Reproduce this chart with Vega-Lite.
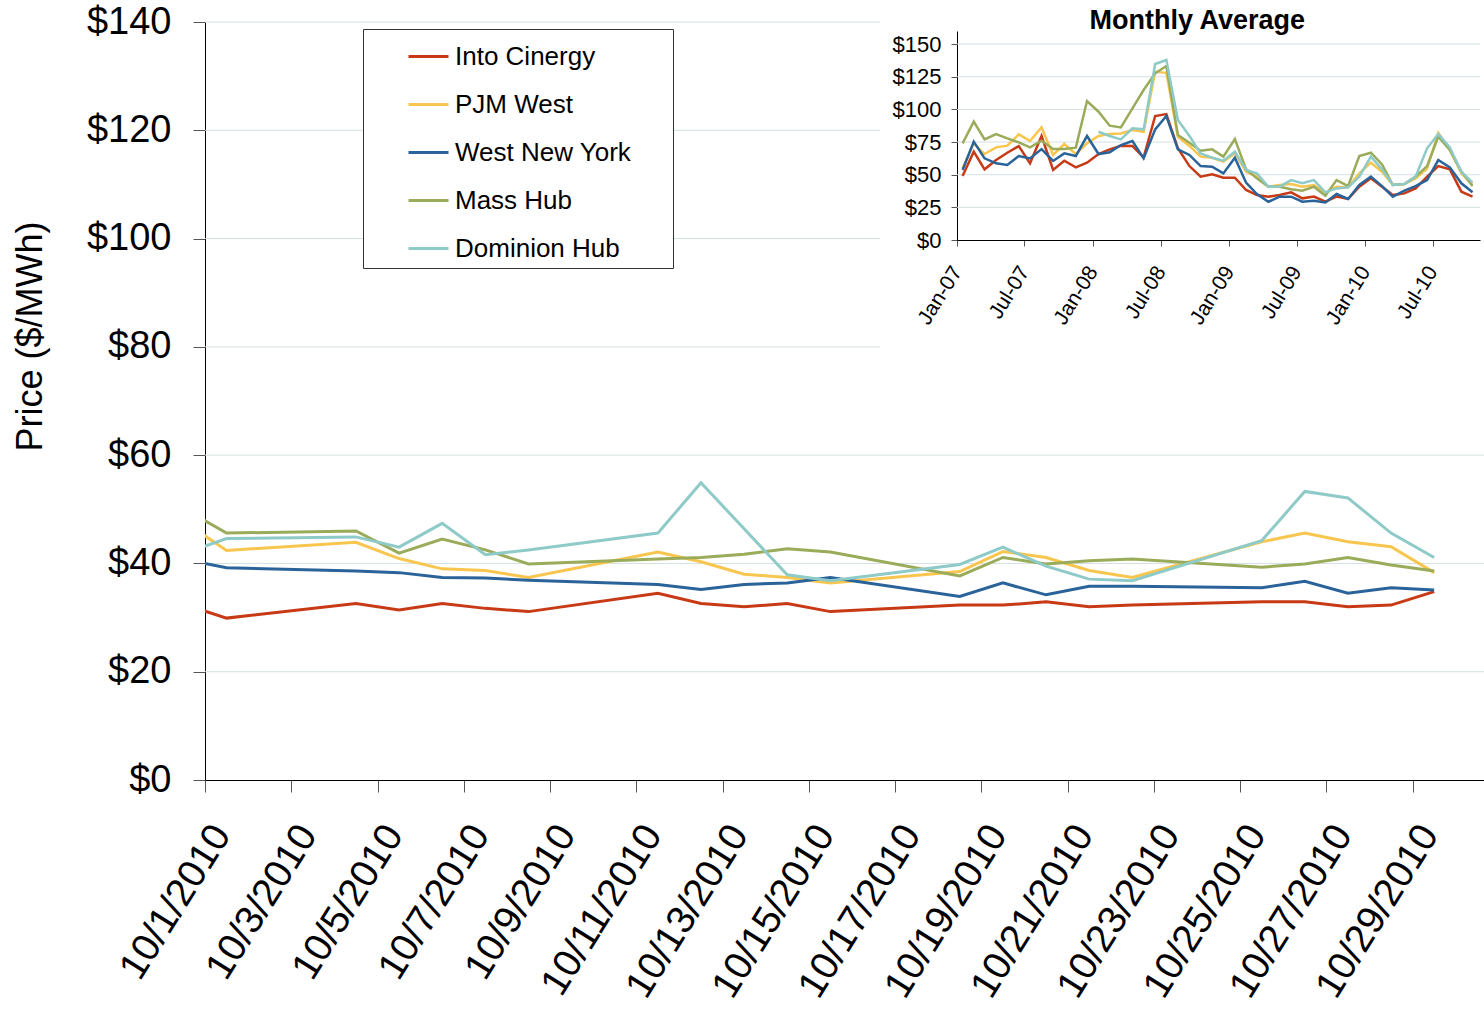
{
  "$schema": "https://vega.github.io/schema/vega-lite/v6.json",
  "width": 1279,
  "height": 758,
  "autosize": {"type": "none"},
  "padding": {"left": 205, "top": 22, "right": 0, "bottom": 231},
  "background": "white",
  "config": {
    "view": {"stroke": null},
    "font": "Liberation Sans",
    "axis": {"labelFont": "Liberation Sans", "titleFont": "Liberation Sans", "labelColor": "#000", "titleColor": "#000"},
    "legend": {"labelFont": "Liberation Sans", "titleFont": "Liberation Sans"}
  },
  "datasets": {
    "daily": [
      {"date": "2010-09-30T12:00:00", "Into Cinergy": 32.5, "PJM West": 47.8, "West New York": 40.8, "Mass Hub": 50.2, "Dominion Hub": 41.8},
      {"date": "2010-10-01T12:00:00", "Into Cinergy": 29.9, "PJM West": 42.4, "West New York": 39.2, "Mass Hub": 45.6, "Dominion Hub": 44.6},
      {"date": "2010-10-04T12:00:00", "Into Cinergy": 32.6, "PJM West": 43.9, "West New York": 38.6, "Mass Hub": 46.0, "Dominion Hub": 44.9},
      {"date": "2010-10-05T12:00:00", "Into Cinergy": 31.4, "PJM West": 40.9, "West New York": 38.3, "Mass Hub": 41.9, "Dominion Hub": 43.0},
      {"date": "2010-10-06T12:00:00", "Into Cinergy": 32.6, "PJM West": 39.0, "West New York": 37.4, "Mass Hub": 44.5, "Dominion Hub": 47.4},
      {"date": "2010-10-07T12:00:00", "Into Cinergy": 31.7, "PJM West": 38.7, "West New York": 37.3, "Mass Hub": 42.5, "Dominion Hub": 41.6},
      {"date": "2010-10-08T12:00:00", "Into Cinergy": 31.1, "PJM West": 37.4, "West New York": 36.9, "Mass Hub": 39.9, "Dominion Hub": 42.5},
      {"date": "2010-10-11T12:00:00", "Into Cinergy": 34.5, "PJM West": 42.1, "West New York": 36.1, "Mass Hub": 40.8, "Dominion Hub": 45.6},
      {"date": "2010-10-12T12:00:00", "Into Cinergy": 32.6, "PJM West": 40.3, "West New York": 35.2, "Mass Hub": 41.1, "Dominion Hub": 54.9},
      {"date": "2010-10-13T12:00:00", "Into Cinergy": 32.0, "PJM West": 38.0, "West New York": 36.1, "Mass Hub": 41.7, "Dominion Hub": 46.4},
      {"date": "2010-10-14T12:00:00", "Into Cinergy": 32.6, "PJM West": 37.4, "West New York": 36.4, "Mass Hub": 42.7, "Dominion Hub": 37.9},
      {"date": "2010-10-15T12:00:00", "Into Cinergy": 31.1, "PJM West": 36.4, "West New York": 37.4, "Mass Hub": 42.1, "Dominion Hub": 36.8},
      {"date": "2010-10-18T12:00:00", "Into Cinergy": 32.3, "PJM West": 38.5, "West New York": 33.9, "Mass Hub": 37.7, "Dominion Hub": 39.8},
      {"date": "2010-10-19T12:00:00", "Into Cinergy": 32.3, "PJM West": 42.2, "West New York": 36.4, "Mass Hub": 41.1, "Dominion Hub": 43.0},
      {"date": "2010-10-20T12:00:00", "Into Cinergy": 32.9, "PJM West": 41.1, "West New York": 34.2, "Mass Hub": 39.9, "Dominion Hub": 39.5},
      {"date": "2010-10-21T12:00:00", "Into Cinergy": 32.0, "PJM West": 38.7, "West New York": 35.8, "Mass Hub": 40.5, "Dominion Hub": 37.1},
      {"date": "2010-10-22T12:00:00", "Into Cinergy": 32.3, "PJM West": 37.4, "West New York": 35.8, "Mass Hub": 40.8, "Dominion Hub": 36.8},
      {"date": "2010-10-25T12:00:00", "Into Cinergy": 32.9, "PJM West": 44.0, "West New York": 35.5, "Mass Hub": 39.3, "Dominion Hub": 44.2},
      {"date": "2010-10-26T12:00:00", "Into Cinergy": 32.9, "PJM West": 45.6, "West New York": 36.7, "Mass Hub": 39.9, "Dominion Hub": 53.3},
      {"date": "2010-10-27T12:00:00", "Into Cinergy": 32.0, "PJM West": 44.0, "West New York": 34.5, "Mass Hub": 41.1, "Dominion Hub": 52.1},
      {"date": "2010-10-28T12:00:00", "Into Cinergy": 32.3, "PJM West": 43.1, "West New York": 35.5, "Mass Hub": 39.7, "Dominion Hub": 45.6},
      {"date": "2010-10-29T12:00:00", "Into Cinergy": 34.8, "PJM West": 38.3, "West New York": 35.1, "Mass Hub": 38.6, "Dominion Hub": 41.1}
    ],
    "monthly": [
      {"date": "2007-01-16T00:00:00", "Into Cinergy": 49.0, "PJM West": 55.0, "West New York": 53.6, "Mass Hub": 74.0, "Dominion Hub": null},
      {"date": "2007-02-15T00:00:00", "Into Cinergy": 67.6, "PJM West": 74.0, "West New York": 75.3, "Mass Hub": 90.6, "Dominion Hub": null},
      {"date": "2007-03-16T00:00:00", "Into Cinergy": 54.1, "PJM West": 65.8, "West New York": 62.5, "Mass Hub": 77.0, "Dominion Hub": null},
      {"date": "2007-04-16T00:00:00", "Into Cinergy": 61.2, "PJM West": 70.9, "West New York": 58.7, "Mass Hub": 81.1, "Dominion Hub": null},
      {"date": "2007-05-16T00:00:00", "Into Cinergy": 66.8, "PJM West": 72.2, "West New York": 57.4, "Mass Hub": 77.8, "Dominion Hub": null},
      {"date": "2007-06-16T00:00:00", "Into Cinergy": 71.9, "PJM West": 80.9, "West New York": 64.3, "Mass Hub": 74.7, "Dominion Hub": null},
      {"date": "2007-07-16T00:00:00", "Into Cinergy": 58.7, "PJM West": 75.8, "West New York": 62.5, "Mass Hub": 70.9, "Dominion Hub": null},
      {"date": "2007-08-16T00:00:00", "Into Cinergy": 79.6, "PJM West": 86.2, "West New York": 69.6, "Mass Hub": 76.0, "Dominion Hub": null},
      {"date": "2007-09-16T00:00:00", "Into Cinergy": 53.6, "PJM West": 65.1, "West New York": 60.5, "Mass Hub": 69.6, "Dominion Hub": null},
      {"date": "2007-10-16T00:00:00", "Into Cinergy": 60.7, "PJM West": 73.5, "West New York": 66.3, "Mass Hub": 69.6, "Dominion Hub": null},
      {"date": "2007-11-16T00:00:00", "Into Cinergy": 55.6, "PJM West": 65.8, "West New York": 64.3, "Mass Hub": 70.7, "Dominion Hub": null},
      {"date": "2007-12-16T00:00:00", "Into Cinergy": 59.2, "PJM West": 74.0, "West New York": 79.6, "Mass Hub": 106.4, "Dominion Hub": null},
      {"date": "2008-01-16T00:00:00", "Into Cinergy": 65.8, "PJM West": 79.6, "West New York": 65.8, "Mass Hub": 98.2, "Dominion Hub": 82.9},
      {"date": "2008-02-15T00:00:00", "Into Cinergy": 69.4, "PJM West": 81.1, "West New York": 67.1, "Mass Hub": 87.5, "Dominion Hub": 79.6},
      {"date": "2008-03-16T00:00:00", "Into Cinergy": 72.2, "PJM West": 81.6, "West New York": 72.7, "Mass Hub": 86.2, "Dominion Hub": 77.0},
      {"date": "2008-04-16T00:00:00", "Into Cinergy": 71.9, "PJM West": 84.2, "West New York": 75.8, "Mass Hub": 100.8, "Dominion Hub": 85.5},
      {"date": "2008-05-16T00:00:00", "Into Cinergy": 63.3, "PJM West": 82.9, "West New York": 62.5, "Mass Hub": 114.8, "Dominion Hub": 84.7},
      {"date": "2008-06-16T00:00:00", "Into Cinergy": 94.9, "PJM West": 128.8, "West New York": 84.7, "Mass Hub": 127.6, "Dominion Hub": 134.7},
      {"date": "2008-07-16T00:00:00", "Into Cinergy": 96.4, "PJM West": 128.0, "West New York": 94.9, "Mass Hub": 133.2, "Dominion Hub": 137.8},
      {"date": "2008-08-16T00:00:00", "Into Cinergy": 70.2, "PJM West": 79.0, "West New York": 69.4, "Mass Hub": 80.4, "Dominion Hub": 91.8},
      {"date": "2008-09-16T00:00:00", "Into Cinergy": 56.6, "PJM West": 72.0, "West New York": 65.1, "Mass Hub": 74.5, "Dominion Hub": 79.6},
      {"date": "2008-10-16T00:00:00", "Into Cinergy": 48.5, "PJM West": 63.8, "West New York": 56.6, "Mass Hub": 68.4, "Dominion Hub": 66.3},
      {"date": "2008-11-16T00:00:00", "Into Cinergy": 50.3, "PJM West": 63.0, "West New York": 56.1, "Mass Hub": 69.4, "Dominion Hub": 63.0},
      {"date": "2008-12-16T00:00:00", "Into Cinergy": 47.7, "PJM West": 60.0, "West New York": 51.0, "Mass Hub": 63.8, "Dominion Hub": 60.7},
      {"date": "2009-01-16T00:00:00", "Into Cinergy": 47.7, "PJM West": 66.3, "West New York": 63.0, "Mass Hub": 77.3, "Dominion Hub": 67.6},
      {"date": "2009-02-15T00:00:00", "Into Cinergy": 38.3, "PJM West": 52.3, "West New York": 43.9, "Mass Hub": 54.1, "Dominion Hub": 53.6},
      {"date": "2009-03-16T00:00:00", "Into Cinergy": 34.4, "PJM West": 48.5, "West New York": 35.2, "Mass Hub": 47.2, "Dominion Hub": 51.0},
      {"date": "2009-04-16T00:00:00", "Into Cinergy": 33.2, "PJM West": 40.8, "West New York": 29.3, "Mass Hub": 40.8, "Dominion Hub": 40.8},
      {"date": "2009-05-16T00:00:00", "Into Cinergy": 34.4, "PJM West": 42.1, "West New York": 33.2, "Mass Hub": 40.8, "Dominion Hub": 40.8},
      {"date": "2009-06-16T00:00:00", "Into Cinergy": 36.5, "PJM West": 42.9, "West New York": 33.2, "Mass Hub": 38.8, "Dominion Hub": 45.9},
      {"date": "2009-07-16T00:00:00", "Into Cinergy": 31.9, "PJM West": 40.8, "West New York": 29.3, "Mass Hub": 37.8, "Dominion Hub": 43.4},
      {"date": "2009-08-16T00:00:00", "Into Cinergy": 33.2, "PJM West": 42.1, "West New York": 30.1, "Mass Hub": 40.8, "Dominion Hub": 45.9},
      {"date": "2009-09-16T00:00:00", "Into Cinergy": 29.3, "PJM West": 36.2, "West New York": 28.8, "Mass Hub": 33.9, "Dominion Hub": 36.5},
      {"date": "2009-10-16T00:00:00", "Into Cinergy": 33.2, "PJM West": 40.8, "West New York": 35.2, "Mass Hub": 45.9, "Dominion Hub": 39.5},
      {"date": "2009-11-16T00:00:00", "Into Cinergy": 31.4, "PJM West": 40.3, "West New York": 31.4, "Mass Hub": 41.3, "Dominion Hub": 40.3},
      {"date": "2009-12-16T00:00:00", "Into Cinergy": 40.8, "PJM West": 51.0, "West New York": 42.1, "Mass Hub": 64.3, "Dominion Hub": 48.5},
      {"date": "2010-01-16T00:00:00", "Into Cinergy": 47.2, "PJM West": 59.2, "West New York": 48.5, "Mass Hub": 66.8, "Dominion Hub": 63.8},
      {"date": "2010-02-15T00:00:00", "Into Cinergy": 40.8, "PJM West": 52.3, "West New York": 41.3, "Mass Hub": 57.9, "Dominion Hub": 54.1},
      {"date": "2010-03-16T00:00:00", "Into Cinergy": 34.4, "PJM West": 42.1, "West New York": 33.2, "Mass Hub": 42.1, "Dominion Hub": 42.1},
      {"date": "2010-04-16T00:00:00", "Into Cinergy": 35.7, "PJM West": 42.9, "West New York": 37.8, "Mass Hub": 42.9, "Dominion Hub": 42.9},
      {"date": "2010-05-16T00:00:00", "Into Cinergy": 39.5, "PJM West": 47.2, "West New York": 41.3, "Mass Hub": 48.5, "Dominion Hub": 48.5},
      {"date": "2010-06-16T00:00:00", "Into Cinergy": 48.5, "PJM West": 54.8, "West New York": 45.9, "Mass Hub": 56.6, "Dominion Hub": 70.2},
      {"date": "2010-07-16T00:00:00", "Into Cinergy": 56.6, "PJM West": 82.1, "West New York": 61.2, "Mass Hub": 79.1, "Dominion Hub": 81.1},
      {"date": "2010-08-16T00:00:00", "Into Cinergy": 54.1, "PJM West": 68.9, "West New York": 55.6, "Mass Hub": 68.9, "Dominion Hub": 70.9},
      {"date": "2010-09-16T00:00:00", "Into Cinergy": 37.0, "PJM West": 51.0, "West New York": 43.4, "Mass Hub": 52.3, "Dominion Hub": 52.3},
      {"date": "2010-10-16T00:00:00", "Into Cinergy": 33.2, "PJM West": 42.1, "West New York": 36.5, "Mass Hub": 41.3, "Dominion Hub": 43.9}
    ]
  },
  "layer": [
    {
      "data": {"values": [{"g": 20}, {"g": 40}, {"g": 60}]},
      "mark": {"type": "rule", "color": "#d4e0e3", "strokeWidth": 1},
      "encoding": {
        "y": {"field": "g", "type": "quantitative", "scale": {"domain": [0, 140], "nice": false}, "axis": null},
        "x": {"datum": {"year": 2010, "month": 10, "date": 1}, "type": "temporal", "scale": {"domain": [{"year": 2010, "month": 10, "date": 1}, {"year": 2010, "month": 10, "date": 30, "hours": 15, "minutes": 43}], "nice": false}, "axis": null},
        "x2": {"datum": {"year": 2010, "month": 10, "date": 30, "hours": 15, "minutes": 43}}
      }
    },
    {
      "data": {"values": [{"g": 80}, {"g": 100}, {"g": 120}, {"g": 140}]},
      "mark": {"type": "rule", "color": "#d4e0e3", "strokeWidth": 1},
      "encoding": {
        "y": {"field": "g", "type": "quantitative", "scale": {"domain": [0, 140], "nice": false}, "axis": null},
        "x": {"datum": {"year": 2010, "month": 10, "date": 1}, "type": "temporal", "scale": {"domain": [{"year": 2010, "month": 10, "date": 1}, {"year": 2010, "month": 10, "date": 30, "hours": 15, "minutes": 43}], "nice": false}, "axis": null},
        "x2": {"datum": {"year": 2010, "month": 10, "date": 16, "hours": 15, "minutes": 36}}
      }
    },
    {
      "data": {"name": "daily"},
      "transform": [{"fold": ["Into Cinergy", "PJM West", "West New York", "Mass Hub", "Dominion Hub"], "as": ["hub", "price"]}],
      "mark": {"type": "line", "clip": true, "strokeWidth": 3},
      "encoding": {
        "x": {
          "field": "date", "type": "temporal",
          "scale": {"domain": [{"year": 2010, "month": 10, "date": 1}, {"year": 2010, "month": 10, "date": 30, "hours": 15, "minutes": 43}], "nice": false},
          "axis": {
            "values": [{"year": 2010, "month": 10, "date": 1}, {"year": 2010, "month": 10, "date": 3}, {"year": 2010, "month": 10, "date": 5}, {"year": 2010, "month": 10, "date": 7}, {"year": 2010, "month": 10, "date": 9}, {"year": 2010, "month": 10, "date": 11}, {"year": 2010, "month": 10, "date": 13}, {"year": 2010, "month": 10, "date": 15}, {"year": 2010, "month": 10, "date": 17}, {"year": 2010, "month": 10, "date": 19}, {"year": 2010, "month": 10, "date": 21}, {"year": 2010, "month": 10, "date": 23}, {"year": 2010, "month": 10, "date": 25}, {"year": 2010, "month": 10, "date": 27}, {"year": 2010, "month": 10, "date": 29}],
            "format": "%-m/%-d/%Y",
            "title": null,
            "orient": "bottom",
            "labelAngle": -58,
            "labelAlign": "right",
            "labelBaseline": "top",
            "labelFontSize": 39,
            "labelPadding": 26,
            "labelLimit": 500,
            "labelOverlap": false,
            "labelFlush": false,
            "tickSize": 12,
            "tickColor": "#555555",
            "domainColor": "#000000",
            "grid": false
          }
        },
        "y": {
          "field": "price", "type": "quantitative",
          "scale": {"domain": [0, 140], "nice": false},
          "axis": {
            "values": [0, 20, 40, 60, 80, 100, 120, 140],
            "labelExpr": "'$' + datum.value",
            "labelFontSize": 38,
            "labelPadding": 22,
            "tickSize": 12,
            "tickColor": "#555555",
            "domainColor": "#000000",
            "grid": false,
            "title": "Price ($/MWh)",
            "titleFontSize": 36,
            "titleFontWeight": "normal",
            "titleAngle": -90,
            "titleAlign": "center",
            "titleBaseline": "middle",
            "titleX": -175,
            "titleY": 314,
            "orient": "left"
          }
        },
        "color": {
          "field": "hub", "type": "nominal",
          "scale": {"domain": ["Into Cinergy", "PJM West", "West New York", "Mass Hub", "Dominion Hub"], "range": ["#c73a15", "#f8c64e", "#2a6399", "#9aab5a", "#8ecac7"]},
          "legend": {
            "orient": "none", "legendX": 158, "legendY": 7,
            "title": " ", "titleOrient": "right", "titlePadding": 36, "titleFontSize": 8,
            "symbolType": "stroke", "symbolSize": 1600, "symbolStrokeWidth": 3,
            "labelFontSize": 26, "labelColor": "#000000", "labelLimit": 400,
            "rowPadding": 13, "padding": 6, "symbolOffset": 38, "labelOffset": 5,
            "fillColor": "white", "strokeColor": "#333333"
          }
        }
      }
    },
    {
      "data": {"values": [{"g": 25}, {"g": 50}, {"g": 75}, {"g": 100}, {"g": 125}, {"g": 150}]},
      "mark": {"type": "rule", "color": "#d4e0e3", "strokeWidth": 1},
      "encoding": {
        "y": {"field": "g", "type": "quantitative", "scale": {"domain": [0, 160], "range": [218, 9], "nice": false}, "axis": null},
        "x": {"datum": {"year": 2007, "month": 1, "date": 1}, "type": "temporal", "scale": {"domain": [{"year": 2007, "month": 1, "date": 1}, {"year": 2010, "month": 11, "date": 5}], "range": [752, 1275], "nice": false}, "axis": null},
        "x2": {"datum": {"year": 2010, "month": 11, "date": 5}}
      }
    },
    {
      "data": {"name": "monthly"},
      "transform": [{"fold": ["Into Cinergy", "PJM West", "West New York", "Mass Hub", "Dominion Hub"], "as": ["hub", "price"]}],
      "mark": {"type": "line", "strokeWidth": 2.5},
      "encoding": {
        "x": {
          "field": "date", "type": "temporal",
          "scale": {"domain": [{"year": 2007, "month": 1, "date": 1}, {"year": 2010, "month": 11, "date": 5}], "range": [752, 1275], "nice": false},
          "axis": {
            "orient": "bottom", "offset": -540,
            "values": [{"year": 2007, "month": 1, "date": 1}, {"year": 2007, "month": 7, "date": 1}, {"year": 2008, "month": 1, "date": 1}, {"year": 2008, "month": 7, "date": 1}, {"year": 2009, "month": 1, "date": 1}, {"year": 2009, "month": 7, "date": 1}, {"year": 2010, "month": 1, "date": 1}, {"year": 2010, "month": 7, "date": 1}],
            "format": "%b-%y", "title": null,
            "labelAngle": -58, "labelAlign": "right", "labelBaseline": "middle",
            "labelFontSize": 21, "labelPadding": 22, "labelOverlap": false, "labelFlush": false,
            "tickSize": 6, "tickColor": "#555555", "domainColor": "#000000", "grid": false
          }
        },
        "y": {
          "field": "price", "type": "quantitative",
          "scale": {"domain": [0, 160], "range": [218, 9], "nice": false},
          "axis": {
            "orient": "left", "offset": -752,
            "values": [0, 25, 50, 75, 100, 125, 150],
            "labelExpr": "'$' + datum.value",
            "labelFontSize": 22, "labelPadding": 10,
            "tickSize": 6, "tickColor": "#555555", "domainColor": "#000000", "grid": false, "title": null
          }
        },
        "color": {
          "field": "hub", "type": "nominal",
          "scale": {"domain": ["Into Cinergy", "PJM West", "West New York", "Mass Hub", "Dominion Hub"], "range": ["#c73a15", "#f8c64e", "#2a6399", "#9aab5a", "#8ecac7"]}
        }
      }
    },
    {
      "data": {"values": [{}]},
      "mark": {"type": "text", "text": "Monthly Average", "fontSize": 27, "fontWeight": "bold", "align": "center", "baseline": "middle", "font": "Liberation Sans", "color": "#000000", "clip": false},
      "encoding": {
        "x": {"datum": {"year": 2008, "month": 10, "date": 7}, "type": "temporal", "scale": {"domain": [{"year": 2007, "month": 1, "date": 1}, {"year": 2010, "month": 11, "date": 5}], "range": [752, 1275], "nice": false}, "axis": null},
        "y": {"datum": 168, "type": "quantitative", "scale": {"domain": [0, 160], "range": [218, 9], "nice": false}, "axis": null}
      }
    }
  ],
  "resolve": {"scale": {"x": "independent", "y": "independent"}, "axis": {"x": "independent", "y": "independent"}}
}
